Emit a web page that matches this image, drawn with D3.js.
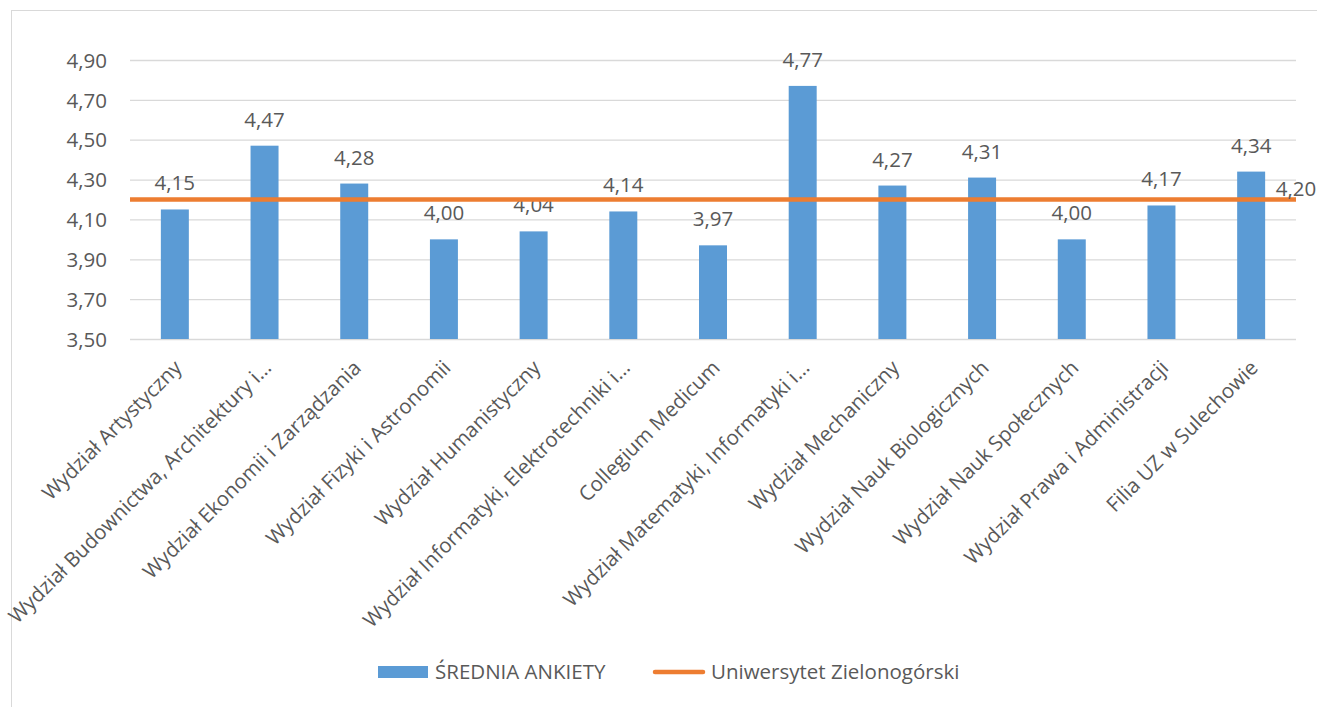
<!DOCTYPE html>
<html>
<head>
<meta charset="utf-8">
<script src="https://cdn.jsdelivr.net/npm/d3@7"></script>
<style>
  body { margin: 0; background: #fff; }
  text { font-family: "Open Sans", sans-serif; fill: #595959; }
</style>
</head>
<body>
<div id="chart"></div>
<script>
var categories = [
  "Wydział Artystyczny",
  "Wydział Budownictwa, Architektury i…",
  "Wydział Ekonomii i Zarządzania",
  "Wydział Fizyki i Astronomii",
  "Wydział Humanistyczny",
  "Wydział Informatyki, Elektrotechniki i…",
  "Collegium Medicum",
  "Wydział Matematyki, Informatyki i…",
  "Wydział Mechaniczny",
  "Wydział Nauk Biologicznych",
  "Wydział Nauk Społecznych",
  "Wydział Prawa i Administracji",
  "Filia UZ w Sulechowie"
];
var srednia = [4.15, 4.47, 4.28, 4.00, 4.04, 4.14, 3.97, 4.77, 4.27, 4.31, 4.00, 4.17, 4.34];
var uniwersytet = [4.20, 4.20, 4.20, 4.20, 4.20, 4.20, 4.20, 4.20, 4.20, 4.20, 4.20, 4.20, 4.20];
var yTicks = [3.50, 3.70, 3.90, 4.10, 4.30, 4.50, 4.70, 4.90];
var seriesNames = ["ŚREDNIA ANKIETY", "Uniwersytet Zielonogórski"];

var W = 1317, H = 707;
var pLeft = 130, pRight = 1296, pTop = 60, pBottom = 339;
var fs = "20.5px";
var fmt = function(v){ return d3.format(".2f")(v).replace(".", ","); };

var svg = d3.select("#chart").append("svg")
    .attr("width", W)
    .attr("height", H);

// chart frame
svg.append("rect")
    .attr("x", 11.5).attr("y", 10.5)
    .attr("width", 1320).attr("height", 720)
    .attr("fill", "none")
    .attr("stroke", "#d9d9d9");

var x = d3.scaleBand()
    .domain(categories)
    .range([pLeft, pRight])
    .paddingInner(0.688)
    .paddingOuter(0.344);

var xLine = d3.scalePoint()
    .domain(categories)
    .range([pLeft, pRight]);

var y = d3.scaleLinear()
    .domain([3.5, 4.9])
    .range([pBottom, pTop]);

// gridlines + tick labels
var yAxis = d3.axisLeft(y)
    .tickValues(yTicks)
    .tickSize(-(pRight - pLeft))
    .tickFormat(fmt);
var gy = svg.append("g")
    .attr("transform", "translate(" + pLeft + ",0)")
    .call(yAxis);
gy.select(".domain").remove();
gy.selectAll(".tick line").attr("stroke", "#d9d9d9").attr("stroke-width", 1.3);
gy.selectAll(".tick text")
    .attr("x", -23)
    .attr("dy", "0.35em")
    .style("font-size", fs)
    .style("font-family", "Open Sans")
    .attr("fill", "#595959");

// bars
svg.selectAll("rect.bar")
    .data(srednia)
    .enter()
    .append("rect")
    .attr("class", "bar")
    .attr("x", function(d, i){ return x(categories[i]); })
    .attr("width", x.bandwidth())
    .attr("y", function(d){ return y(d); })
    .attr("height", function(d){ return pBottom - y(d); })
    .attr("fill", "#5b9bd5");

// bar labels
svg.selectAll("text.val")
    .data(srednia)
    .enter()
    .append("text")
    .attr("class", "val")
    .attr("x", function(d, i){ return x(categories[i]) + x.bandwidth() / 2; })
    .attr("y", function(d){ return y(d) - 19; })
    .attr("text-anchor", "middle")
    .style("font-size", fs)
    .text(fmt);

// line series
var line = d3.line()
    .x(function(d, i){ return xLine(categories[i]); })
    .y(function(d){ return y(d); });
svg.append("path")
    .datum(uniwersytet)
    .attr("d", line)
    .attr("fill", "none")
    .attr("stroke", "#ed7d31")
    .attr("stroke-width", 4.5);

var last = uniwersytet.length - 1;
svg.append("text")
    .attr("x", xLine(categories[last]))
    .attr("y", y(uniwersytet[last]) - 4)
    .attr("text-anchor", "middle")
    .style("font-size", fs)
    .text(fmt(uniwersytet[last]));

// category labels
svg.selectAll("text.cat")
    .data(categories)
    .enter()
    .append("text")
    .attr("class", "cat")
    .attr("transform", function(d){
        return "translate(" + (x(d) + x.bandwidth() / 2 + 3) + "," + 364 + ") rotate(-45)";
    })
    .attr("text-anchor", "end")
    .attr("dy", "0.35em")
    .style("font-size", fs)
    .text(function(d){ return d; });

// legend
var lg = svg.append("g").attr("transform", "translate(0,672)");
lg.append("rect")
    .attr("x", 378).attr("y", -6)
    .attr("width", 50).attr("height", 12)
    .attr("fill", "#5b9bd5");
lg.append("text")
    .attr("x", 435).attr("y", 0).attr("dy", "0.35em")
    .style("font-size", fs)
    .text(seriesNames[0]);
lg.append("line")
    .attr("x1", 655).attr("x2", 703)
    .attr("y1", 0).attr("y2", 0)
    .attr("stroke", "#ed7d31")
    .attr("stroke-width", 4.5)
    .attr("stroke-linecap", "round");
lg.append("text")
    .attr("x", 711).attr("y", 0).attr("dy", "0.35em")
    .style("font-size", fs)
    .text(seriesNames[1]);
</script>
</body>
</html>
